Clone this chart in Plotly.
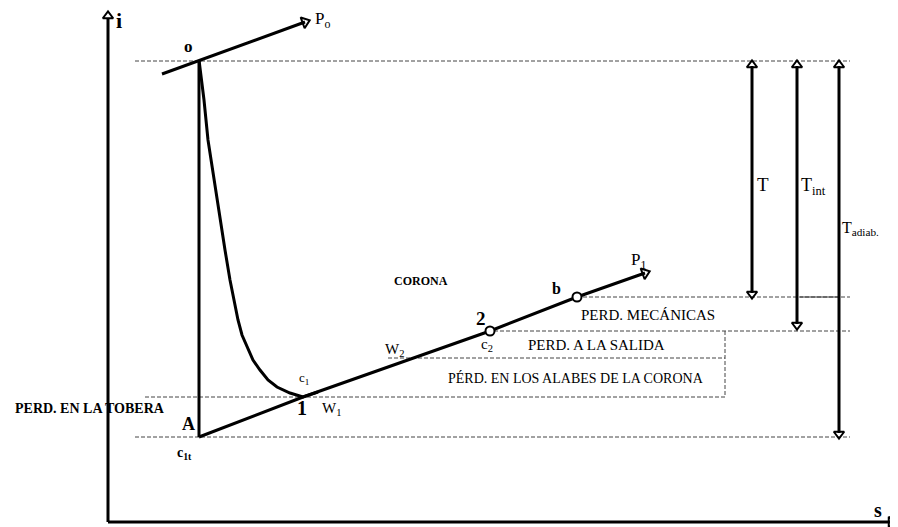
import plotly.graph_objects as go

# ---- diagram data (s, i coordinates in drawing units) ----
curve_s = [199, 204, 208, 214, 220, 225, 230, 234, 238, 242, 247, 253, 260, 268, 277, 290, 303, 318]
curve_i = [60, 100, 140, 180, 220, 250, 280, 301, 320, 335, 347, 360, 370, 380, 387, 393, 397, 392]

exp_s = [199, 303, 490, 577, 645]
exp_i = [437, 397, 331, 297, 273]

p0_s = [162, 305]
p0_i = [74, 22]

vert_s = [199, 199]
vert_i = [60, 437]

dash_i = [61, 297, 331, 358, 397, 437]
dash_s0 = [135, 583, 494, 388, 145, 135]
dash_s1 = [850, 850, 850, 725, 725, 850]

box_s = [725, 725]
box_i = [331, 397]

state_s = [490, 577]
state_i = [331, 297]

t_s = [752, 797, 839]
t_top = [62, 62, 62]
t_bot = [297, 328, 437]

labels = [
    ("o", 188, 46, 17, True),
    ("P<sub>o</sub>", 322, 20, 17, False),
    ("P<sub>1</sub>", 638, 261, 17, False),
    ("b", 556, 288, 16, True),
    ("2", 481, 318, 19, True),
    ("c<sub>2</sub>", 487, 345, 15, False),
    ("W<sub>2</sub>", 394, 350, 15, False),
    ("c<sub>1</sub>", 304, 378, 13, False),
    ("1", 302, 408, 20, True),
    ("W<sub>1</sub>", 331, 409, 15, False),
    ("A", 188, 424, 18, True),
    ("c<sub>1t</sub>", 184, 453, 14, True),
    ("CORONA", 421, 281, 12, True),
    ("PERD. MECÁNICAS", 648, 315, 15, False),
    ("PERD. A LA SALIDA", 596, 345, 15, False),
    ("PÉRD. EN LOS ALABES DE LA CORONA", 576, 378, 14, False),
    ("PERD. EN LA TOBERA", 90, 408, 14, True),
    ("i", 119, 20, 22, True),
    ("s", 878, 510, 20, True),
    ("T", 763, 184, 19, False),
    ("T<sub>int</sub>", 813, 186, 18, False),
    ("T<sub>adiab.</sub>", 860, 228, 16, False),
]

FONT = "Liberation Serif"
fig = go.Figure()

def line(xs, ys, width=3, dash=None, color="black", shape="linear"):
    fig.add_trace(go.Scatter(x=xs, y=ys, mode="lines",
                             line=dict(color=color, width=width, dash=dash, shape=shape),
                             hoverinfo="skip", showlegend=False))

def head(x, y, symbol, angle=0, size=10):
    fig.add_trace(go.Scatter(x=[x], y=[y], mode="markers",
                             marker=dict(symbol=symbol, size=size, angle=angle,
                                         color="black", line=dict(color="black", width=2)),
                             hoverinfo="skip", showlegend=False))

# dashed guide lines
for y, x0, x1 in zip(dash_i, dash_s0, dash_s1):
    line([x0, x1], [y, y], width=1, dash="4px,2px", color="#444")
line(box_s, box_i, width=1, dash="4px,2px", color="#444")
line([800, 838], [297, 297], width=1, color="#333")

# axes
line([108, 108], [18, 522], width=3)
line([108, 890], [522, 522], width=3)
head(108, 16, "triangle-up-open", size=9)
head(891, 522, "triangle-right-open", size=9)

# isobars and process lines
line(p0_s, p0_i, width=3)
head(p0_s[1], p0_i[1], "triangle-right-open", angle=-20, size=10)
line(vert_s, vert_i, width=3)
line(curve_s, curve_i, width=3)
line(exp_s, exp_i, width=3)
head(exp_s[-1], exp_i[-1], "triangle-right-open", angle=-20, size=10)

fig.add_trace(go.Scatter(x=state_s, y=state_i, mode="markers",
                         marker=dict(symbol="circle", size=9, color="white",
                                     line=dict(color="black", width=2)),
                         hoverinfo="skip", showlegend=False))

# enthalpy drop arrows
for x, y0, y1 in zip(t_s, t_top, t_bot):
    line([x, x], [y0 + 4, y1 - 4], width=3)
    head(x, y0 + 3, "triangle-up-open", size=9)
    head(x, y1 - 3, "triangle-down-open", size=9)

for text, x, y, size, bold in labels:
    fig.add_annotation(x=x, y=y, text=f"<b>{text}</b>" if bold else text,
                       showarrow=False, font=dict(family=FONT, size=size, color="black"),
                       xanchor="center", yanchor="middle")

# the page body has an 8px margin, so the ranges are offset to keep the drawing in place
fig.update_layout(
    width=898, height=527,
    margin=dict(l=0, r=0, t=0, b=0),
    paper_bgcolor="white", plot_bgcolor="white",
    xaxis=dict(range=[8, 906], visible=False, fixedrange=True),
    yaxis=dict(range=[535, 8], visible=False, fixedrange=True),
)

fig.write_html("out.html")
